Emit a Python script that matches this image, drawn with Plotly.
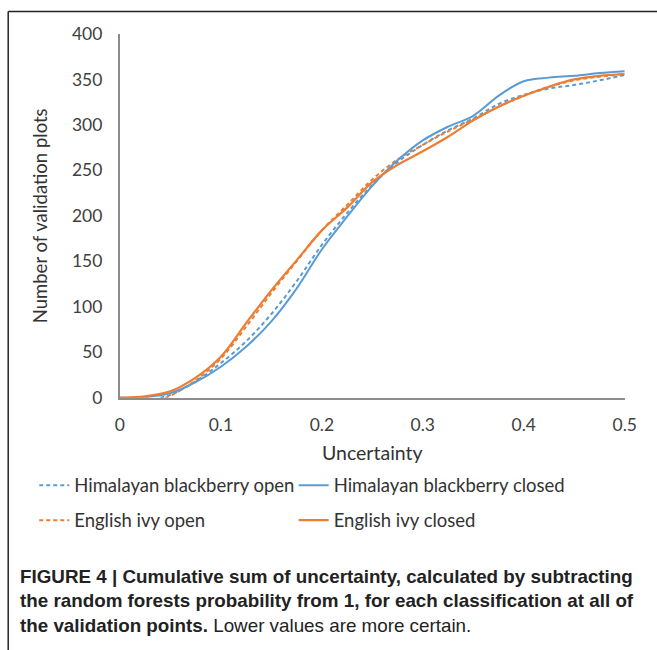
import plotly.graph_objects as go

# ---- data ----
x_full = [0, 0.025, 0.05, 0.075, 0.1, 0.125, 0.15, 0.175, 0.2, 0.225, 0.25,
          0.275, 0.3, 0.325, 0.35, 0.375, 0.4, 0.425, 0.45, 0.475, 0.5]

hb_closed = [0, 0.5, 5, 17, 34, 56, 84, 120, 163, 199, 233,
             261, 283, 298, 310, 332, 348, 352, 354, 357, 359]
ei_closed = [0, 1.5, 7, 22, 45, 82, 118, 151, 184, 209, 237,
             256, 271, 287, 305, 320, 332, 342, 350, 354, 356]

x_hb_open = [0.04, 0.05, 0.075, 0.1, 0.125, 0.15, 0.175, 0.2, 0.225, 0.25,
             0.275, 0.3, 0.325, 0.35, 0.375, 0.4, 0.425, 0.45, 0.475, 0.5]
hb_open = [0, 3, 18, 38, 62, 92, 128, 168, 203, 234,
           259, 278, 294, 307, 323, 333, 340, 344, 349, 355]

x_ei_open = [0.045, 0.05, 0.075, 0.1, 0.125, 0.15, 0.175, 0.2, 0.225, 0.25,
             0.275, 0.3, 0.325, 0.35, 0.375, 0.4, 0.425, 0.45, 0.475, 0.5]
ei_open = [0, 2, 19, 43, 78, 115, 150, 184, 212, 240,
           262, 278, 293, 306, 320, 332, 342, 349, 353, 356]

x_ticks = [0, 0.1, 0.2, 0.3, 0.4, 0.5]
x_tick_text = ["0", "0.1", "0.2", "0.3", "0.4", "0.5"]
y_ticks = [0, 50, 100, 150, 200, 250, 300, 350, 400]

names = ["Himalayan blackberry open", "Himalayan blackberry closed",
         "English ivy open", "English ivy closed"]

BLUE = "#5B9BD5"
ORANGE = "#ED7D31"
FONT = "Lato"

# empirical mapping between figure pixels and the photographed page
SX, SY = 0.973, 0.969
OX, OY = 5.3, 10.0
W = round((657 - OX) / SX)
H = round((650 - OY) / SY)


def px_x(p):
    return ((p - OX) / SX) / W


def px_y(p):
    return 1 - ((p - OY) / SY) / H


def fs(s):
    return s / SX


DASH = "4px,3px"

fig = go.Figure()
fig.add_trace(go.Scatter(x=x_hb_open, y=hb_open, mode="lines", name=names[0],
                         line=dict(color=BLUE, width=2, dash=DASH, shape="spline"),
                         legend="legend", legendgroup="a"))
fig.add_trace(go.Scatter(x=x_ei_open, y=ei_open, mode="lines", name=names[2],
                         line=dict(color=ORANGE, width=2, dash=DASH, shape="spline"),
                         legend="legend", legendgroup="b"))
fig.add_trace(go.Scatter(x=x_full, y=hb_closed, mode="lines", name=names[1],
                         line=dict(color=BLUE, width=2, shape="spline"),
                         legend="legend2", legendgroup="c"))
fig.add_trace(go.Scatter(x=x_full, y=ei_closed, mode="lines", name=names[3],
                         line=dict(color=ORANGE, width=2.2, shape="spline"),
                         legend="legend2", legendgroup="d"))

legend_common = dict(orientation="v", bgcolor="rgba(0,0,0,0)", borderwidth=0,
                     tracegroupgap=8, font=dict(family=FONT, size=fs(18), color="#333333"),
                     xanchor="left", yanchor="top")

fig.update_layout(
    width=W, height=H,
    margin=dict(l=0, r=0, t=0, b=0),
    paper_bgcolor="white", plot_bgcolor="white",
    font=dict(family=FONT, color="#404040"),
    xaxis=dict(domain=[px_x(120), px_x(624)], range=[0, 0.5],
               tickvals=x_ticks, ticktext=x_tick_text,
               showgrid=False, zeroline=False, showline=True,
               linecolor="#8c8c8c", linewidth=2, ticks="", ticklabelstandoff=10,
               tickfont=dict(family=FONT, size=fs(17), color="#404040"),
               title=dict(text="Uncertainty", font=dict(family=FONT, size=fs(19), color="#333333"), standoff=13)),
    yaxis=dict(domain=[px_y(397), px_y(33)], range=[0, 400],
               tickvals=y_ticks, showgrid=False, zeroline=False, showline=True,
               linecolor="#8c8c8c", linewidth=2, ticks="", ticklabelstandoff=12,
               tickfont=dict(family=FONT, size=fs(17), color="#404040"),
               title=dict(text="Number of validation plots", font=dict(family=FONT, size=fs(18), color="#333333"), standoff=20)),
    legend=dict(x=px_x(34.5), y=px_y(466), **legend_common),
    legend2=dict(x=px_x(293.5), y=px_y(466), **legend_common),
    showlegend=True,
)

# figure frame (left and top border)
fig.add_shape(type="line", xref="paper", yref="paper",
              x0=px_x(8.5), x1=px_x(8.5), y0=px_y(10.5), y1=-0.05,
              line=dict(color="#222222", width=1.5))
fig.add_shape(type="line", xref="paper", yref="paper",
              x0=px_x(8.5), x1=1.05, y0=px_y(10.5), y1=px_y(10.5),
              line=dict(color="#222222", width=1.5))

caption = ("<b>FIGURE 4 | Cumulative sum of uncertainty, calculated by subtracting</b><br>"
           "<b>the random forests probability from 1, for each classification at all of</b><br>"
           "<b>the validation points.</b> Lower values are more certain.")
fig.add_annotation(text=caption, xref="paper", yref="paper",
                   x=px_x(18), y=px_y(563), xanchor="left", yanchor="top",
                   align="left", showarrow=False,
                   font=dict(family="Liberation Sans", size=fs(18.3), color="#222222"))

fig.write_html("out.html")
